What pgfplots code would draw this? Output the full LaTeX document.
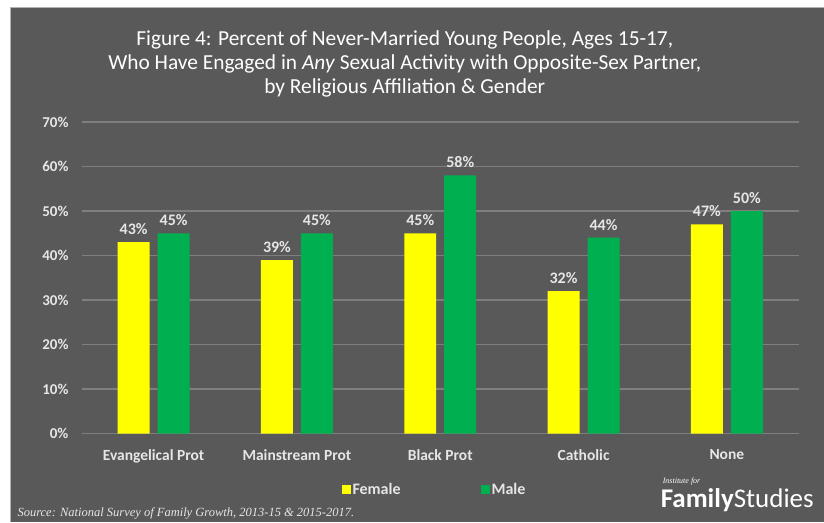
\documentclass[border=0pt]{standalone}
\usepackage{pgfplots}
\pgfplotsset{compat=1.18}
\usepackage{fontspec}
\setmainfont{Carlito}
\newfontfamily\srcfont{Liberation Serif}
\definecolor{bg}{HTML}{595959}
\definecolor{gridc}{HTML}{7F7F7F}
\definecolor{txt}{HTML}{E6E6E6}
\definecolor{fem}{HTML}{FFFF00}
\definecolor{mal}{HTML}{00B050}
\begin{document}
\begin{tikzpicture}[x=1pt,y=1pt]
\fill[white] (0,0) rectangle (824,522);
\fill[bg] (11,0) rectangle (824,514);
\draw[gray!60,line width=1pt] (11,0) -- (11,514) -- (824,514);
\node[white,align=center,font=\fontsize{21.4}{24}\selectfont] at (405,458)
  {Figure 4: Percent of Never-Married Young People, Ages 15-17,\\
   Who Have Engaged in \textit{Any} Sexual Activity with Opposite-Sex Partner,\\
   by Religious Affiliation \& Gender};
\begin{axis}[
  at={(82pt,88pt)}, anchor=south west,
  scale only axis, width=717pt, height=312pt,
  ybar=8pt, bar width=32pt,
  xmin=-0.5, xmax=4.5, ymin=0, ymax=70,
  xtick={0,1,2,3,4},
  xticklabels={Evangelical Prot,Mainstream Prot,Black Prot,Catholic,None},
  ytick={0,10,...,70},
  yticklabel={\pgfmathprintnumber{\tick}\%},
  /pgf/number format/assume math mode=true,
  ymajorgrids, grid style={gridc,line width=1.5pt},
  axis line style={draw=none}, tick style={draw=none},
  x tick label style={font=\bfseries\fontsize{15.5}{17}\selectfont, text=txt, yshift=-8pt},
  y tick label style={font=\bfseries\fontsize{15}{17}\selectfont, text=txt, xshift=-10pt},
  nodes near coords={\pgfmathprintnumber{\pgfplotspointmeta}\%},
  nodes near coords style={font=\bfseries\fontsize{16}{18}\selectfont, text=txt, yshift=4pt},
  legend style={at={(0.492,-0.179)}, anchor=center, draw=none, fill=none,
    font=\bfseries\fontsize{16}{18}\selectfont, text=txt,
    legend columns=2, /tikz/every even column/.append style={column sep=78pt}},
  legend image code/.code={\fill[#1] (0pt,-4.5pt) rectangle (9pt,4.5pt);},
]
\addplot[fill=fem, draw=none] coordinates {(0,43) (1,39) (2,45) (3,32) (4,47)};
\addlegendentry{Female}
\addplot[fill=mal, draw=none] coordinates {(0,45) (1,45) (2,58) (3,44) (4,50)};
\addlegendentry{Male}
\end{axis}
\node[anchor=west, txt, font=\srcfont\itshape\fontsize{12.5}{14}\selectfont] at (14,8)
  {Source: National Survey of Family Growth, 2013-15 \& 2015-2017.};
\node[anchor=south west, white, font=\srcfont\itshape\fontsize{8}{9}\selectfont, inner sep=0] at (663,36) {Institute for};
\node[anchor=south west, white, inner sep=0, font=\fontsize{27}{30}\selectfont] at (661,10)
  {\textbf{Family}Studies};
\end{tikzpicture}
\end{document}
